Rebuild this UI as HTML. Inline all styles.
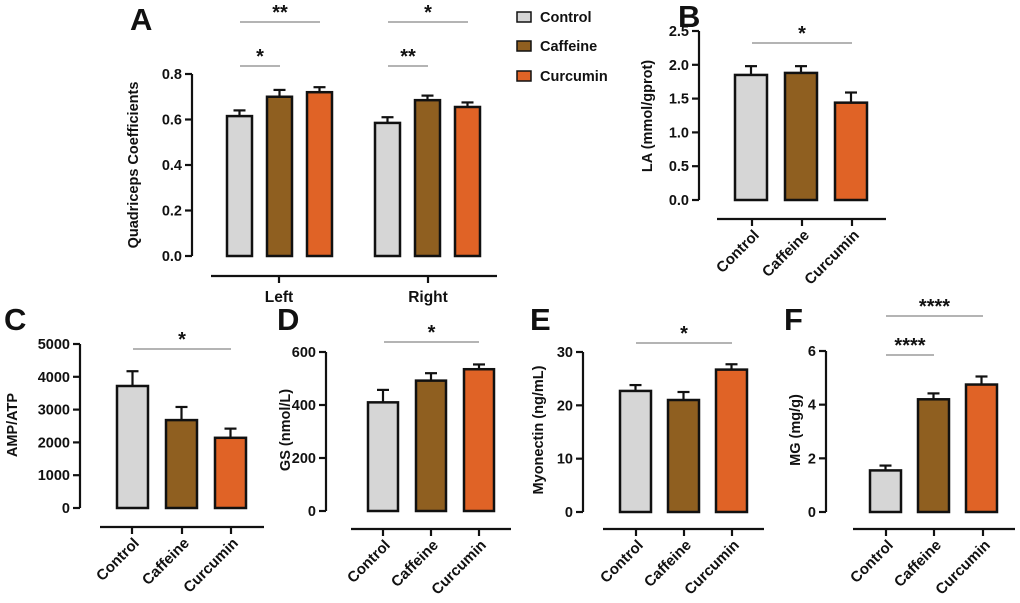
<!DOCTYPE html>
<html><head><meta charset="utf-8"><style>
body{margin:0;background:#fff}
svg{display:block}
text{font-family:"Liberation Sans",Arial,sans-serif;font-weight:bold;fill:#111}
</style></head><body>
<svg id="fig" width="1020" height="603" viewBox="0 0 1020 603"></svg>
<script>
const groups = ["Control","Caffeine","Curcumin"];
const colors = ["#d6d6d6","#8f5f20","#e06326"];
// Panel A
const aCats = ["Left","Right"];
const aVals = [[0.615,0.70,0.72],[0.585,0.685,0.655]];
const aErr = [[0.025,0.03,0.022],[0.025,0.02,0.02]];
const aTicks = [0,0.2,0.4,0.6,0.8];
const aTickLabels = ["0.0","0.2","0.4","0.6","0.8"];
// Panel B
const bVals = [1.85,1.88,1.44]; const bErr = [0.13,0.10,0.15];
const bTicks = [0,0.5,1,1.5,2,2.5]; const bTickLabels = ["0.0","0.5","1.0","1.5","2.0","2.5"];
// Panel C
const cVals = [3720,2680,2140]; const cErr = [450,400,280];
const cTicks = [0,1000,2000,3000,4000,5000]; const cTickLabels = ["0","1000","2000","3000","4000","5000"];
// Panel D
const dVals = [410,492,535]; const dErr = [47,28,18];
const dTicks = [0,200,400,600]; const dTickLabels = ["0","200","400","600"];
// Panel E
const eVals = [22.7,21.0,26.7]; const eErr = [1.1,1.5,1.0];
const eTicks = [0,10,20,30]; const eTickLabels = ["0","10","20","30"];
// Panel F
const fVals = [1.55,4.2,4.75]; const fErr = [0.18,0.22,0.3];
const fTicks = [0,2,4,6]; const fTickLabels = ["0","2","4","6"];

const svg = document.getElementById('fig');
const NS = "http://www.w3.org/2000/svg";
function el(tag, attrs, parent, txt){
  const e = document.createElementNS(NS, tag);
  for (const k in attrs) e.setAttribute(k, attrs[k]);
  if (txt !== undefined) e.textContent = txt;
  (parent||svg).appendChild(e); return e;
}
function line(x1,y1,x2,y2,w,c,p){return el('line',{x1,y1,x2,y2,stroke:c||'#111','stroke-width':w||2},p);}

function panel(cfg){
  const g = el('g',{});
  
  
  const max = cfg.ticks[cfg.ticks.length-1];
  const y = v => cfg.y0 - (v/max)*(cfg.y0-cfg.yTop);
  const L = el('text',{x:cfg.letter[0],y:cfg.letter[1],'font-size':31},g,cfg.letterTxt);
   
  const ya = line(cfg.ax, y(max), cfg.ax, cfg.y0, 2.2, '#111', g);
   
  cfg.ticks.forEach((t,i)=>{
    line(cfg.ax-7, y(t), cfg.ax, y(t), 2.2, '#111', g);
    const tl = el('text',{x:cfg.ax-10,y:y(t)+5,'font-size':14.5,'text-anchor':'end'},g,cfg.tickLabels[i]);
     
  });
  const yt = el('text',{x:0,y:0,'font-size':14.5,'text-anchor':'middle',transform:`translate(${cfg.ytitle[0]},${cfg.ytitle[1]}) rotate(-90)`},g,cfg.ytitleTxt);
   
  cfg.bars.forEach(b=>{
    const top = y(b.v);
    const cx = b.x + b.w/2;
    line(cx, y(b.v+b.e), cx, top, 2.2, '#111', g);
    line(cx-6, y(b.v+b.e), cx+6, y(b.v+b.e), 2.2, '#111', g);
    const r = el('rect',{x:b.x,y:top,width:b.w,height:cfg.y0-top,fill:b.c,stroke:'#111','stroke-width':2.5},g);
     
  });
  const ca = line(cfg.cat[0], cfg.cat[2], cfg.cat[1], cfg.cat[2], 2.2, '#111', g);
   
  cfg.catTicks.forEach((tx,i)=>{
    line(tx, cfg.cat[2], tx, cfg.cat[2]+7, 2.2, '#111', g);
    let t;
    if (cfg.rotate){
      t = el('text',{x:0,y:0,'font-size':15,'text-anchor':'end',transform:`translate(${tx+8},${cfg.cat[2]+17}) rotate(-45)`},g,cfg.catLabels[i]);
    } else {
      t = el('text',{x:tx,y:cfg.cat[2]+26,'font-size':15.5,'text-anchor':'middle'},g,cfg.catLabels[i]);
    }
     
  });
  cfg.sig.forEach(s=>{
    line(s[0], s[2], s[1], s[2], 1.3, '#888', g);
    const st = el('text',{x:(s[0]+s[1])/2,y:s[2]-3,'font-size':20,'text-anchor':'middle'},g,s[3]);
     
  });
}

function barsFrom(vals, errs, xs, w){
  return vals.map((v,i)=>({v, e:errs[i], x:xs[i], w, c:colors[i%3], n:groups[i%3].toLowerCase()}));
}

panel({name:'panel-a',letterTxt:'A',letter:[130,30],ax:192,y0:256,yTop:74,ticks:aTicks,tickLabels:aTickLabels,
  ytitle:[138,165],ytitleTxt:'Quadriceps Coefficients',
  bars:[...barsFrom(aVals[0],aErr[0],[227,267,307],25),...barsFrom(aVals[1],aErr[1],[375,415,455],25)],
  cat:[211,497,276],catTicks:[279,428],catLabels:aCats,rotate:false,
  sig:[[240,320,22,'**'],[240,280,66,'*'],[388,468,22,'*'],[388,428,66,'**']]});

panel({name:'panel-b',letterTxt:'B',letter:[678,27],ax:699,y0:200,yTop:31,ticks:bTicks,tickLabels:bTickLabels,
  ytitle:[652,116],ytitleTxt:'LA (mmol/gprot)',
  bars:barsFrom(bVals,bErr,[735,785,835],32),
  cat:[717,886,219],catTicks:[752,802,852],catLabels:groups,rotate:true,
  sig:[[752,852,43,'*']]});

panel({name:'panel-c',letterTxt:'C',letter:[4,330],ax:80,y0:508,yTop:344,ticks:cTicks,tickLabels:cTickLabels,
  ytitle:[17,425],ytitleTxt:'AMP/ATP',
  bars:barsFrom(cVals,cErr,[117,166,215],31),
  cat:[100,264,527],catTicks:[132,182,231],catLabels:groups,rotate:true,
  sig:[[133,231,349,'*']]});

panel({name:'panel-d',letterTxt:'D',letter:[277,330],ax:326,y0:511,yTop:352,ticks:dTicks,tickLabels:dTickLabels,
  ytitle:[290,430],ytitleTxt:'GS (nmol/L)',
  bars:barsFrom(dVals,dErr,[368,416,464],30),
  cat:[351,511,529],catTicks:[383,431,479],catLabels:groups,rotate:true,
  sig:[[384,479,342,'*']]});

panel({name:'panel-e',letterTxt:'E',letter:[530,330],ax:583,y0:512,yTop:352,ticks:eTicks,tickLabels:eTickLabels,
  ytitle:[543,430],ytitleTxt:'Myonectin (ng/mL)',
  bars:barsFrom(eVals,eErr,[620,668,716],31),
  cat:[603,764,529],catTicks:[636,684,732],catLabels:groups,rotate:true,
  sig:[[636,732,343,'*']]});

panel({name:'panel-f',letterTxt:'F',letter:[784,330],ax:826,y0:512,yTop:351,ticks:fTicks,tickLabels:fTickLabels,
  ytitle:[800,430],ytitleTxt:'MG (mg/g)',
  bars:barsFrom(fVals,fErr,[870,918,966],31),
  cat:[853,1015,529],catTicks:[886,934,983],catLabels:groups,rotate:true,
  sig:[[886,934,355,'****'],[886,983,316,'****']]});

const lg = el('g',{});
 
[[12,22],[41,51],[71,81]].forEach((p,i)=>{
  const e = el('g',{},lg);
  
  
  el('rect',{x:517,y:p[0],width:14,height:10,fill:colors[i],stroke:'#111','stroke-width':1.5},e);
  el('text',{x:540,y:p[1],'font-size':14.5},e,groups[i]);
});
</script>
</body></html>
